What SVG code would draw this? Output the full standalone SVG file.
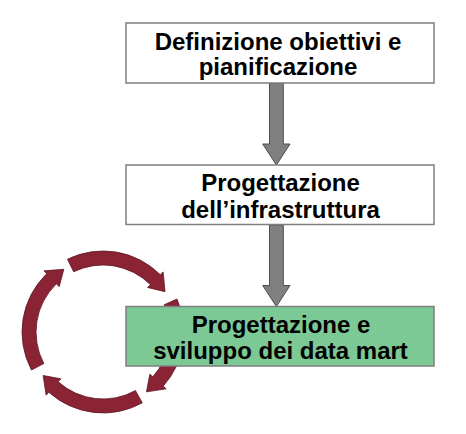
<svg xmlns="http://www.w3.org/2000/svg" width="466" height="434" viewBox="0 0 466 434">
<style>
.box{stroke:#7f7f7f;stroke-width:1.5}
.lbl{font-family:"Liberation Sans",Arial,sans-serif;font-weight:bold;font-size:24px;fill:#000;text-anchor:middle}
.down{fill:#808080;stroke:#4d4d4d;stroke-width:1}
.cyc{fill:#8a2334;stroke:#5e1622;stroke-width:0.8}
</style>
<rect width="466" height="434" fill="#fff"/>
<g id="cycle">
<path class="cyc" d="M31.48,370.03 A81,81 0 0 1 46.73,273.74 L43.95,270.86 L63.79,269.25 L59.23,286.68 L56.46,283.81 A67,67 0 0 0 43.85,363.46 Z"/>
<path class="cyc" d="M67.49,259.2 A81,81 0 0 1 160.28,274.72 L163.1,271.9 L165.06,291.7 L147.55,287.45 L150.38,284.62 A67,67 0 0 0 73.63,271.78 Z"/>
<path class="cyc" d="M176.99,299.06 A81,81 0 0 1 163.19,386.2 L166.16,388.87 L146.5,391.87 L149.82,374.15 L152.79,376.83 A67,67 0 0 0 164.2,304.75 Z"/>
<path class="cyc" d="M142.27,402.84 A81,81 0 0 1 48.8,392.19 L46.13,395.16 L43.13,375.5 L60.85,378.82 L58.17,381.79 A67,67 0 0 0 135.48,390.6 Z"/>
</g>
<g id="connectors">
<path class="down" d="M269.5,83 H283.3 V144 H290 L276.4,165 L262.7,144 H269.5 Z"/>
<path class="down" d="M269.5,225 H283.3 V285.5 H290 L276.4,306.5 L262.7,285.5 H269.5 Z"/>
</g>
<g id="node1">
<rect class="box" x="126" y="23" width="308" height="60" fill="#fff"/>
<text class="lbl" x="278" y="50">Definizione obiettivi e</text>
<text class="lbl" x="278" y="74.5">pianificazione</text>
</g>
<g id="node2">
<rect class="box" x="126" y="165" width="308" height="59.5" fill="#fff"/>
<text class="lbl" x="280.5" y="191">Progettazione</text>
<text class="lbl" x="280.5" y="217.5">dell’infrastruttura</text>
</g>
<g id="node3">
<rect class="box" x="126" y="306.5" width="308" height="59.5" fill="#7dc995"/>
<text class="lbl" x="281" y="333">Progettazione e</text>
<text class="lbl" x="280.5" y="359">sviluppo dei data mart</text>
</g>
</svg>
